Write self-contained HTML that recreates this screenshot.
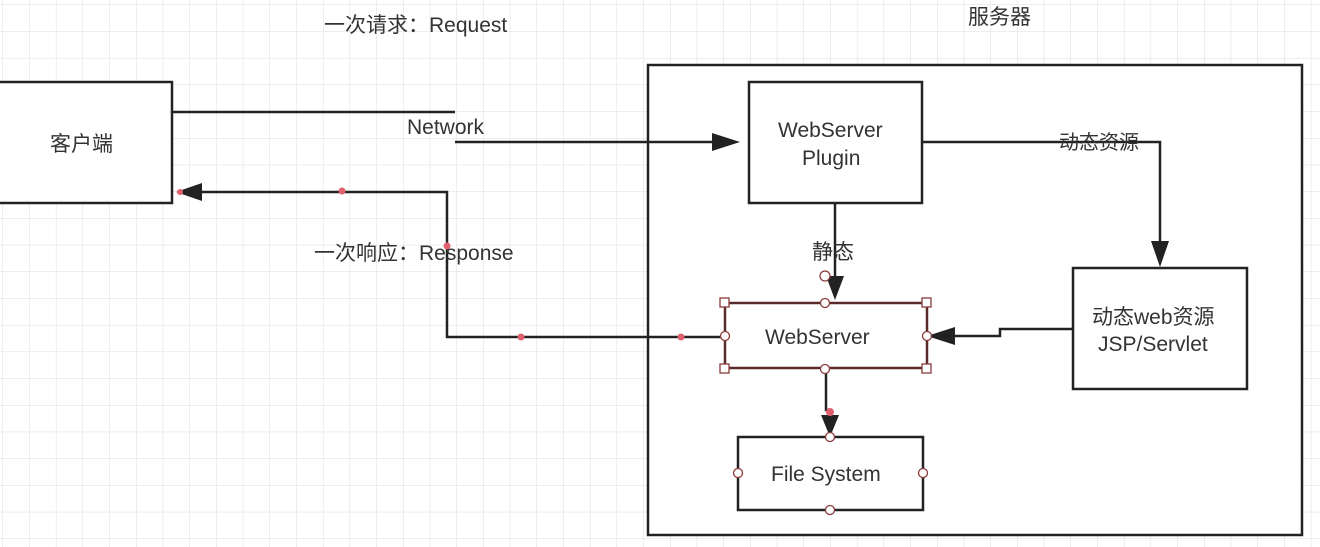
<!DOCTYPE html>
<html><head><meta charset="utf-8"><style>
html,body{margin:0;padding:0;background:#fff;}
svg{display:block;}
text{font-family:"Liberation Sans","Noto Sans CJK SC",sans-serif;fill:#333;}
</style></head><body>
<svg width="1320" height="547" viewBox="0 0 1320 547" xmlns="http://www.w3.org/2000/svg">
<defs>
<pattern id="g" x="3" y="5" width="26.7" height="26.7" patternUnits="userSpaceOnUse">
<path d="M26.7 0V26.7M0 26.7H26.7" fill="none" stroke="#dcdcdc" stroke-width="1"/>
</pattern>
</defs>
<rect width="1320" height="547" fill="#fff"/>
<rect width="1320" height="547" fill="url(#g)"/>
<g stroke="#222" stroke-width="2.5" fill="#fff">
<rect x="-5" y="82" width="177" height="121"/>
<rect x="648" y="65" width="654" height="470"/>
<rect x="749" y="82" width="173" height="121"/>
<rect x="1073" y="268" width="174" height="121"/>
<rect x="725" y="303" width="202" height="65" stroke="#5a2a2a"/>
<rect x="738" y="437" width="185" height="73"/>
</g>
<g stroke="#222" stroke-width="2.5" fill="none">
<path d="M172 112H455"/>
<path d="M455 142H722"/>
<path d="M922 142H1160V252"/>
<path d="M198 192H447V337H725"/>
<path d="M1073 329H1000V336H955"/>
<path d="M835 203V280"/>
<path d="M826 368V410H830V420"/>
</g>
<g fill="#222">
<polygon points="740,142 712,133 712,151"/>
<polygon points="1160,267 1151,241 1169,241"/>
<polygon points="176,192 202,183 202,201"/>
<polygon points="927,336 955,327 955,345"/>
<polygon points="835,300 826,276 844,276"/>
<polygon points="830,437 821,415 839,415"/>
</g>
<g fill="#e06070">
<circle cx="342" cy="191" r="3.5"/><circle cx="447" cy="246" r="3.5"/>
<circle cx="521" cy="337" r="3.5"/><circle cx="681" cy="337" r="3.5"/>
<circle cx="830" cy="412" r="4"/><circle cx="180" cy="192" r="3"/>
</g>
<g fill="#fff" stroke="#8a3a3a" stroke-width="1.3">
<rect x="720" y="298" width="9" height="9"/><rect x="922" y="298" width="9" height="9"/>
<rect x="720" y="364" width="9" height="9"/><rect x="922" y="364" width="9" height="9"/>
<circle cx="825" cy="303" r="4.5"/><circle cx="825" cy="369" r="4.5"/>
<circle cx="725" cy="336" r="4.5"/><circle cx="927" cy="336" r="4.5"/>
<circle cx="825" cy="276" r="5"/>
<circle cx="830" cy="437" r="4.5"/><circle cx="830" cy="510" r="4.5"/>
<circle cx="738" cy="473" r="4.5"/><circle cx="923" cy="473" r="4.5"/>
</g>
<g font-size="21">
<text x="324" y="32">一次请求：Request</text>
<text x="968" y="24">服务器</text>
<text x="50" y="151">客户端</text>
<text x="407" y="134">Network</text>
<text x="778" y="137">WebServer</text>
<text x="802" y="165">Plugin</text>
<text x="1059" y="149" font-size="20">动态资源</text>
<text x="812" y="259">静态</text>
<text x="314" y="260">一次响应：Response</text>
<text x="765" y="344">WebServer</text>
<text x="1092" y="324">动态web资源</text>
<text x="1098" y="351">JSP/Servlet</text>
<text x="771" y="481">File System</text>
</g>
</svg>
</body></html>
